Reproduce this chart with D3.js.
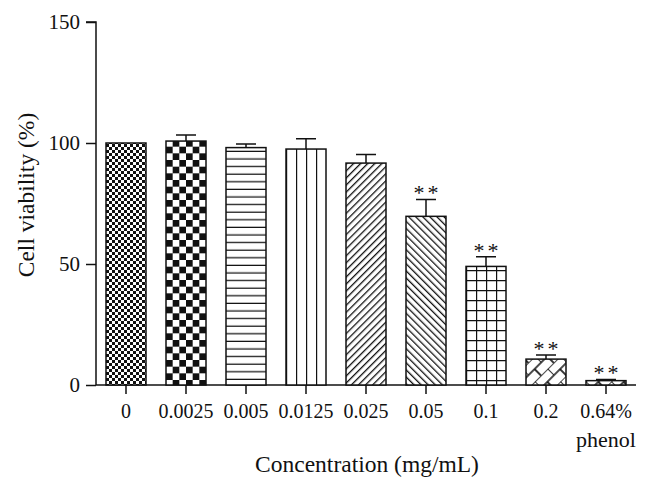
<!DOCTYPE html>
<html>
<head>
<meta charset="utf-8">
<script src="https://cdn.jsdelivr.net/npm/d3@7"></script>
<style>
  body { margin: 0; background: #fff; }
  text { font-family: "Liberation Serif", "Times New Roman", serif; fill: #111; }
</style>
</head>
<body>
<div id="chart"></div>
<script>
// data
const categories = ['0', '0.0025', '0.005', '0.0125', '0.025', '0.05', '0.1', '0.2', '0.64%\nphenol']
const viability = [100, 100.8, 98.1, 97.5, 91.7, 69.7, 49, 10.7, 1.8]
const sem = [0, 2.5, 1.5, 4.3, 3.5, 7, 4, 1.7, 0.5]
const marks = ['', '', '', '', '', '**', '**', '**', '**']
const yTicks = [0, 50, 100, 150]

const W = 650, H = 493

var svg = d3.select('#chart')
  .append('svg')
  .attr('width', W)
  .attr('height', H)

var x = d3.scaleBand()
  .domain(categories)
  .range([96, 636])
  .paddingInner(1/3)
  .paddingOuter(1/6)

var y = d3.scaleLinear()
  .domain([0, 150])
  .range([385, 22])

// --- fill patterns, one per bar ---
var defs = svg.append('defs')
function pat(id, w, h, extra) {
  var p = defs.append('pattern')
    .attr('id', id)
    .attr('patternUnits', 'userSpaceOnUse')
    .attr('width', w)
    .attr('height', h)
  if (extra) p.attr('patternTransform', extra)
  p.append('rect').attr('width', w).attr('height', h).attr('fill', '#fff')
  return p
}
// fine checker
var p0 = pat('p0', 6, 6, 'translate(106,0)')
p0.append('rect').attr('width', 3).attr('height', 3).attr('fill', '#111')
p0.append('rect').attr('x', 3).attr('y', 3).attr('width', 3).attr('height', 3).attr('fill', '#111')
// coarse checker
var c = 40 / 6
var p1 = pat('p1', 2 * c, 2 * c, 'translate(166,0)')
p1.append('rect').attr('width', c).attr('height', c).attr('fill', '#111')
p1.append('rect').attr('x', c).attr('y', c).attr('width', c).attr('height', c).attr('fill', '#111')
// horizontal lines
var p2 = pat('p2', 10, 7.6)
p2.append('line').attr('x1', 0).attr('x2', 10).attr('y1', 7).attr('y2', 7)
  .attr('stroke', '#111').attr('stroke-width', 1.3)
// vertical lines
var p3 = pat('p3', 10, 10, 'translate(286,0)')
p3.append('line').attr('x1', 0).attr('x2', 0).attr('y1', 0).attr('y2', 10)
  .attr('stroke', '#111').attr('stroke-width', 2.4)
// forward diagonal
var p4 = pat('p4', 5, 10, 'rotate(45)')
p4.append('line').attr('x1', 0).attr('x2', 0).attr('y1', 0).attr('y2', 10)
  .attr('stroke', '#111').attr('stroke-width', 2.6)
// back diagonal
var p5 = pat('p5', 5, 10, 'rotate(-45)')
p5.append('line').attr('x1', 0).attr('x2', 0).attr('y1', 0).attr('y2', 10)
  .attr('stroke', '#111').attr('stroke-width', 2.6)
// grid
var p6 = pat('p6', 10, 10, 'translate(476,0)')
p6.append('path').attr('d', 'M0,0V10M0,0H10').attr('fill', 'none')
  .attr('stroke', '#111').attr('stroke-width', 2.4)
// diagonal bricks
function bricks(id) {
  var p = pat(id, 18, 18, 'rotate(-45)')
  p.append('path').attr('d', 'M0,0H18M0,9H18M0,0V9M9,9V18').attr('fill', 'none')
    .attr('stroke', '#111').attr('stroke-width', 1.7)
}
bricks('p7')
bricks('p8')

// --- axes ---
var yAxis = svg.append('g')
  .attr('transform', 'translate(96,0)')
  .call(d3.axisLeft(y).tickValues(yTicks).tickSize(10).tickPadding(6))
var xAxis = svg.append('g')
  .attr('transform', 'translate(0,385)')
  .call(d3.axisBottom(x).tickSize(9).tickPadding(11).tickFormat(''))

svg.selectAll('.domain, .tick line')
  .attr('stroke', '#111')
  .attr('stroke-width', 1.5)
yAxis.select('.domain').attr('d', 'M0,385V22H-10')
xAxis.select('.domain').attr('d', 'M96,0H636')
yAxis.selectAll('text')
  .style('font-size', '21px')

// category labels (one may hold two lines)
xAxis.selectAll('.tick').each(function(d) {
  var t = d3.select(this).append('text')
    .attr('y', 33)
    .attr('text-anchor', 'middle')
    .style('font-size', '20px')
  d.split('\n').forEach(function(s, i) {
    t.append('tspan').attr('x', 0).attr('dy', i ? 29 : 0)
      .style('font-size', i ? '22px' : '20px').text(s)
  })
})

// --- bars ---
var bars = svg.append('g')
bars.selectAll('rect')
  .data(viability)
  .enter()
  .append('rect')
  .attr('x', function(d, i) { return x(categories[i]) })
  .attr('y', function(d) { return y(d) })
  .attr('width', x.bandwidth())
  .attr('height', function(d) { return y(0) - y(d) })
  .attr('fill', function(d, i) { return 'url(#p' + i + ')' })
  .attr('stroke', '#111')
  .attr('stroke-width', 1.5)

// error bars, upper half only
var err = svg.append('g').attr('stroke', '#111').attr('stroke-width', 1.5).attr('fill', 'none')
viability.forEach(function(v, i) {
  if (!sem[i]) return
  var cx = x(categories[i]) + x.bandwidth() / 2
  err.append('path')
    .attr('d', 'M' + cx + ',' + y(v) + 'V' + y(v + sem[i]) + 'M' + (cx - 10) + ',' + y(v + sem[i]) + 'H' + (cx + 10))
})

// significance marks
svg.append('g')
  .selectAll('text')
  .data(marks)
  .enter()
  .append('text')
  .attr('x', function(d, i) { return x(categories[i]) + x.bandwidth() / 2 + 1.5 })
  .attr('y', function(d, i) { return y(viability[i] + sem[i]) + 1 })
  .attr('text-anchor', 'middle')
  .style('font-size', '22px')
  .style('letter-spacing', '3px')
  .text(function(d) { return d })

// axis titles
svg.append('text')
  .attr('x', 367)
  .attr('y', 472)
  .attr('text-anchor', 'middle')
  .style('font-size', '23.5px')
  .text('Concentration (mg/mL)')

svg.append('text')
  .attr('transform', 'translate(34,195) rotate(-90)')
  .attr('text-anchor', 'middle')
  .style('font-size', '23.5px')
  .text('Cell viability (%)')
</script>
</body>
</html>
